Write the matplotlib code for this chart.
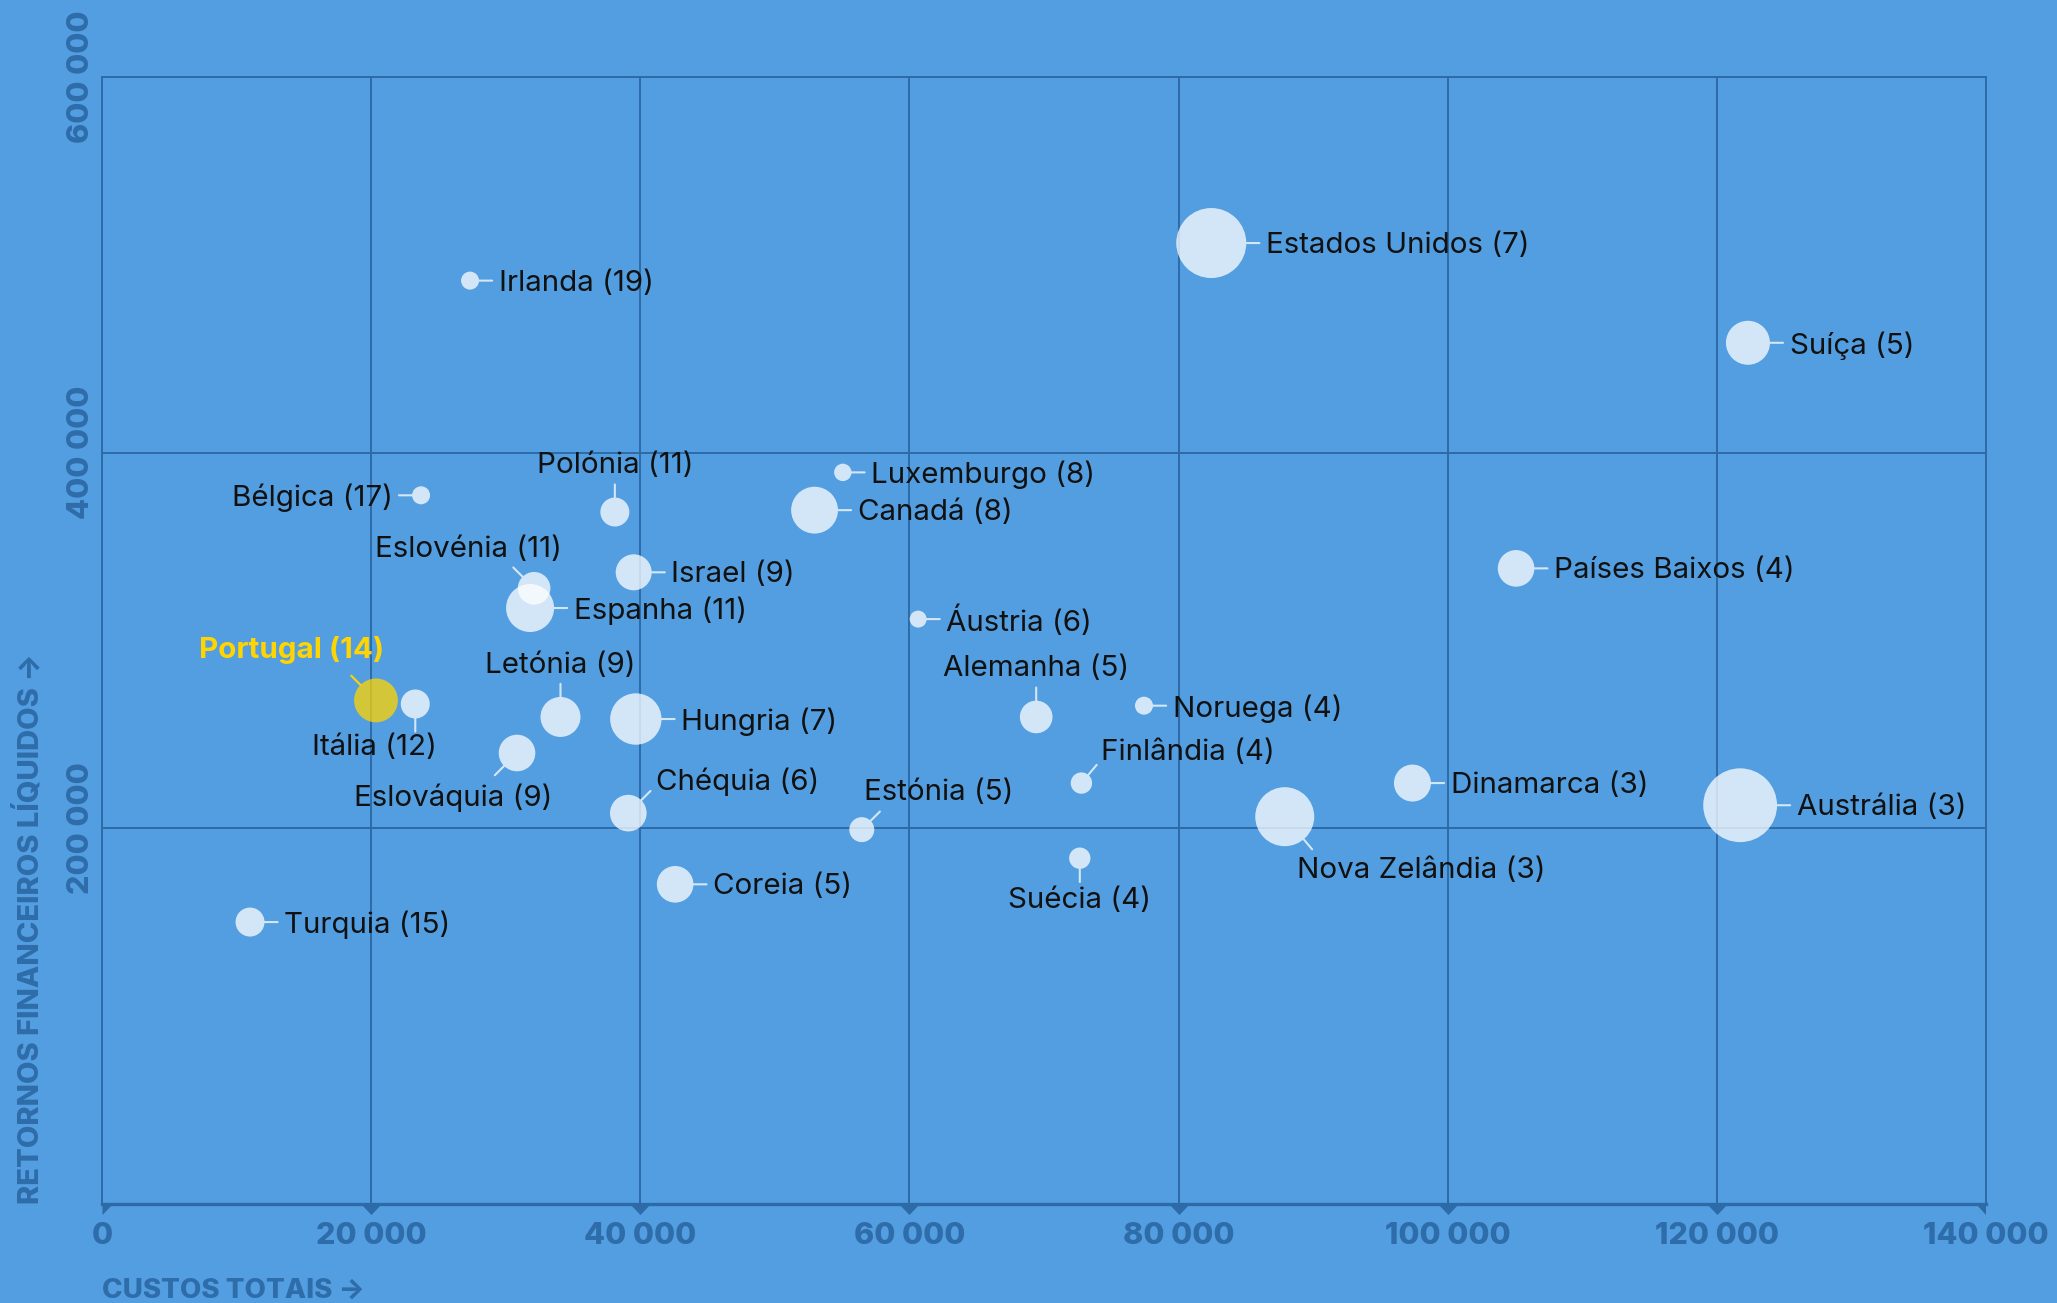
import numpy as np
import matplotlib
matplotlib.use("Agg")
import matplotlib.pyplot as plt
from matplotlib.path import Path

# ---------------- data ----------------
paises = ["Irlanda", "Bélgica", "Polónia", "Luxemburgo", "Canadá", "Israel",
          "Eslovénia", "Espanha", "Áustria", "Países Baixos", "Estados Unidos",
          "Suíça", "Portugal", "Itália", "Letónia", "Hungria", "Alemanha",
          "Noruega", "Eslováquia", "Finlândia", "Dinamarca", "Austrália",
          "Chéquia", "Estónia", "Nova Zelândia", "Suécia", "Coreia", "Turquia"]
ranking = [19, 17, 11, 8, 8, 9, 11, 11, 6, 4, 7, 5, 14, 12, 9, 7, 5, 4, 9, 4,
           3, 3, 6, 5, 3, 4, 5, 15]
custos_totais = [27350, 23710, 38110, 55050, 52950, 39510, 32110, 31810, 60650,
                 105080, 82430, 122310, 20360, 23280, 34070, 39670, 69420,
                 77430, 30840, 72780, 97380, 121730, 39110, 56460, 87890,
                 72660, 42590, 11000]
retornos_liquidos = [491600, 377300, 368400, 389500, 369400, 336300, 327800,
                     317300, 311400, 338400, 511600, 458500, 268100, 266200,
                     259300, 258200, 259300, 265300, 240100, 224100, 224100,
                     212300, 208100, 199300, 206200, 184100, 170200, 150100]
dimensao = [81, 81, 210, 76, 548, 324, 266, 576, 72, 335, 1225, 484, 480, 210,
            400, 660, 266, 81, 335, 114, 342, 1362, 335, 156, 870, 114, 335, 210]

x_ticks = [0, 20000, 40000, 60000, 80000, 100000, 120000, 140000]
x_ticklabels = ["0", "20 000", "40 000", "60 000", "80 000", "100 000",
                "120 000", "140 000"]
y_ticks = [200000, 400000, 600000]
y_ticklabels = ["200 000", "400 000", "600 000"]
destaque = "Portugal"
x_label = "CUSTOS TOTAIS →"
y_label = "RETORNOS FINANCEIROS LÍQUIDOS →"

# ---------------- style / layout ----------------
BG = "#539EE0"
GRID = "#2C6BA7"
TICKC = "#2E6CAA"
BUBBLE = "white"
YELLOW = "#FFD400"
LEAD = "#D4E7F7"
FONT = ["Inter", "DejaVu Sans"]
K = 0.945  # reference display px -> points
LABEL_FS = 21.3

# label layout per country: code or (angle, dx, dy, ha, va) in display px
layout = {
    "Bélgica": "L", "Polónia": "U", "Letónia": "U", "Alemanha": "U",
    "Suécia": "D",
    "Eslovénia": (135, -50, 19, "center", "bottom"),
    "Portugal": (135, -64, 28, "center", "bottom"),
    "Itália": (-90, -31, -23, "center", "top"),
    "Eslováquia": (-135, -49, -23, "center", "top"),
    "Finlândia": (50, 15, 13, "left", "bottom"),
    "Chéquia": (45, 21, 13, "left", "bottom"),
    "Estónia": (45, 2, 18, "left", "bottom"),
    "Nova Zelândia": (-50, 9, -31, "left", "top"),
}

plt.rcParams["font.family"] = FONT

fig = plt.figure(figsize=(20.57, 13.03), dpi=100, facecolor=BG)
ax = fig.add_axes([102 / 2057, 99 / 1303, 1884 / 2057, 1127 / 1303])
ax.set_facecolor(BG)
ax.set_xlim(0, 140000)
ax.set_ylim(0, 600000)

ax.set_axisbelow(True)
ax.grid(True, color=GRID, lw=1.4)
for side in ["left", "top", "right"]:
    ax.spines[side].set_color(GRID)
    ax.spines[side].set_linewidth(1.4)
ax.spines["bottom"].set_color(GRID)
ax.spines["bottom"].set_linewidth(2.4)

ax.set_xticks(x_ticks)
ax.set_xticklabels(x_ticklabels)
ax.set_yticks(y_ticks)
ax.set_yticklabels(y_ticklabels, rotation=90, va="center")
ax.tick_params(axis="x", length=0, pad=13, labelsize=22, labelcolor=TICKC)
ax.tick_params(axis="y", length=0, pad=5, labelsize=22, labelcolor=TICKC)
for lab in ax.get_xticklabels() + ax.get_yticklabels():
    lab.set_fontweight("heavy")

# triangle tick markers under the x axis
tri = Path([(-1, 0), (1, 0), (0, -1.05), (-1, 0)],
           [Path.MOVETO, Path.LINETO, Path.LINETO, Path.CLOSEPOLY])
tri_r = Path([(0, 0), (1, 0), (0, -1.05), (0, 0)],
             [Path.MOVETO, Path.LINETO, Path.LINETO, Path.CLOSEPOLY])
tri_l = Path([(-1, 0), (0, 0), (0, -1.05), (-1, 0)],
             [Path.MOVETO, Path.LINETO, Path.LINETO, Path.CLOSEPOLY])
for i, t in enumerate(x_ticks):
    m = tri
    if i == 0:
        m = tri_r
    elif i == len(x_ticks) - 1:
        m = tri_l
    ax.scatter([t], [0], marker=m, s=230, color=GRID, lw=0, clip_on=False,
               zorder=5)

# bubbles
sizes = np.array(dimensao) * 2.0736
colors = [YELLOW if p == destaque else BUBBLE for p in paises]
ax.scatter(custos_totais, retornos_liquidos, s=sizes, c=colors, alpha=0.75,
           lw=0, zorder=3)

# labels with leader lines
LINE = 10 * K
for p, n, x, y, s in zip(paises, ranking, custos_totais, retornos_liquidos,
                         sizes):
    r = np.sqrt(s) / 2
    rd = r / K
    spec = layout.get(p, "R")
    if spec == "R":
        ang, dx, dy, ha, va = 0, rd + 15, -2, "left", "center"
    elif spec == "L":
        ang, dx, dy, ha, va = 180, -(rd + 15), -2, "right", "center"
    elif spec == "U":
        ang, dx, dy, ha, va = 90, 0, rd + 14, "center", "bottom"
    elif spec == "D":
        ang, dx, dy, ha, va = -90, 0, -(rd + 14), "center", "top"
    else:
        ang, dx, dy, ha, va = spec
    a = np.deg2rad(ang)
    ex, ey = (r + LINE) * np.cos(a), (r + LINE) * np.sin(a)
    lc = YELLOW if p == destaque else LEAD
    ax.annotate("", xy=(x, y), xytext=(ex, ey), textcoords="offset points",
                arrowprops=dict(arrowstyle="-", color=lc, lw=1.5,
                                shrinkA=0, shrinkB=r), zorder=4)
    if p == destaque:
        ax.annotate(f"{p} ({n})", xy=(x, y), xytext=(dx * K, dy * K),
                    textcoords="offset points", ha=ha, va=va,
                    fontsize=LABEL_FS, color=YELLOW, fontweight="bold",
                    zorder=6)
    else:
        ax.annotate(f"{p} ({n})", xy=(x, y), xytext=(dx * K, dy * K),
                    textcoords="offset points", ha=ha, va=va,
                    fontsize=LABEL_FS, color="#111111", zorder=6)

fig.text(102 / 2057, 12 / 1303, x_label, ha="left", va="center", fontsize=20,
         fontweight="heavy", color=TICKC)
fig.text(29 / 2057, 99 / 1303, y_label, ha="center", va="bottom", fontsize=21,
         fontweight="heavy", color=TICKC, rotation=90)

fig.savefig("out.png", dpi=100, facecolor=BG)
